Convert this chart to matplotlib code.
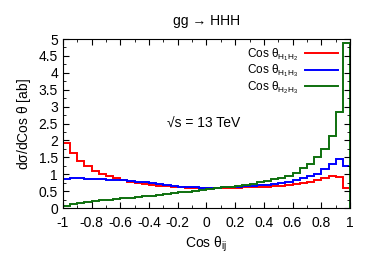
import numpy as np
import matplotlib
matplotlib.use('Agg')
import matplotlib.pyplot as plt
from matplotlib.ticker import MultipleLocator

plt.rcParams['font.family'] = ['Liberation Sans', 'DejaVu Sans']
plt.rcParams['mathtext.fontset'] = 'custom'
plt.rcParams['mathtext.rm'] = 'Liberation Sans'
plt.rcParams['mathtext.it'] = 'Liberation Sans'

# bin edges, 40 bins of 0.05
edges = np.linspace(-1, 1, 41)

# cos theta H1H2
h1h2 = [1.93, 1.62, 1.40, 1.24, 1.11, 1.02, 0.94, 0.88, 0.82, 0.78,
        0.74, 0.71, 0.68, 0.66, 0.64, 0.62, 0.61, 0.60, 0.59, 0.59,
        0.59, 0.59, 0.59, 0.60, 0.60, 0.61, 0.61, 0.62, 0.63, 0.64,
        0.66, 0.68, 0.71, 0.74, 0.78, 0.83, 0.89, 0.94, 0.93, 0.58]
# cos theta H1H3
h1h3 = [0.86, 0.88, 0.88, 0.87, 0.86, 0.85, 0.84, 0.83, 0.82, 0.80,
        0.78, 0.76, 0.74, 0.71, 0.68, 0.66, 0.63, 0.62, 0.61, 0.60,
        0.60, 0.60, 0.61, 0.62, 0.63, 0.64, 0.65, 0.67, 0.69, 0.71,
        0.74, 0.78, 0.82, 0.88, 0.94, 1.02, 1.14, 1.31, 1.46, 1.24]
# cos theta H2H3
h2h3 = [0.05, 0.12, 0.16, 0.19, 0.21, 0.23, 0.25, 0.27, 0.29, 0.31,
        0.33, 0.35, 0.37, 0.39, 0.41, 0.43, 0.46, 0.48, 0.50, 0.53,
        0.56, 0.58, 0.61, 0.63, 0.66, 0.69, 0.72, 0.76, 0.80, 0.85,
        0.90, 0.96, 1.05, 1.17, 1.30, 1.52, 1.74, 2.12, 2.85, 4.87]

fig = plt.figure(figsize=(3.74, 2.62), dpi=100)
ax = fig.add_axes([0.168, 0.206, 0.768, 0.645])

ax.stairs(h1h2, edges, color='#ff0000', lw=1.4, label=r'Cos $\theta_{\mathrm{H_1H_2}}$')
ax.stairs(h1h3, edges, color='#0000ff', lw=1.4, label=r'Cos $\theta_{\mathrm{H_1H_3}}$')
ax.stairs(h2h3, edges, color='#0e700e', lw=1.4, label=r'Cos $\theta_{\mathrm{H_2H_3}}$')

ax.set_xlim(-1, 1)
ax.set_ylim(0, 5)
ax.xaxis.set_minor_locator(MultipleLocator(0.1))
ax.yaxis.set_minor_locator(MultipleLocator(0.25))
xt = np.arange(-1, 1.01, 0.2)
ax.set_xticks(xt)
ax.set_xticklabels(['%g' % round(v, 1) if abs(v) > 1e-9 else '0' for v in xt])
yt = np.arange(0, 5.01, 0.5)
ax.set_yticks(yt)
ax.set_yticklabels(['%g' % v for v in yt])
ax.tick_params(which='both', direction='in', top=True, right=True, labelsize=10)
ax.tick_params(which='major', length=4)
ax.tick_params(which='minor', length=2)
ax.tick_params(axis='x', pad=6)

ax.set_xlabel(r'Cos $\theta_{\mathrm{ij}}$', fontsize=10, labelpad=3)
ax.set_ylabel(r'd$\sigma$/dCos $\theta$ [ab]', fontsize=10, labelpad=4)
ax.set_title('gg \u2192 HHH', fontsize=10, pad=10)

ax.text(-0.02, 2.48, '\u221as = 13 TeV', ha='center', va='center', fontsize=10)

ax.legend(loc='upper right', frameon=False, markerfirst=False, fontsize=8.5,
          handlelength=2.8, handletextpad=0.6, labelspacing=0.0,
          borderaxespad=0.0, bbox_to_anchor=(0.975, 0.985))

fig.savefig('out.png', dpi=100)
